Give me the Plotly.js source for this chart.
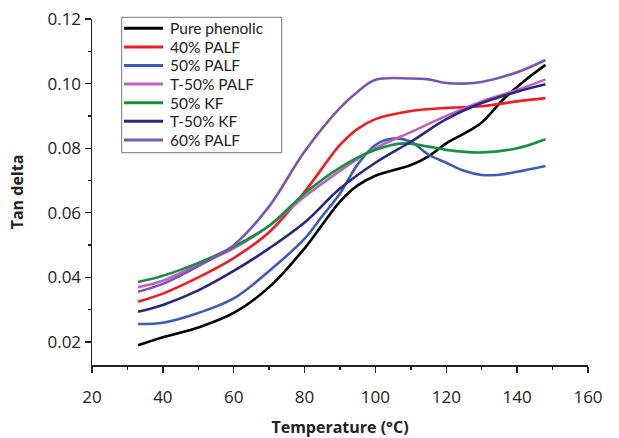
<!DOCTYPE html>
<html>
<head>
<meta charset="utf-8">
<script src="https://cdn.plot.ly/plotly-3.0.1.min.js"></script>
<style>html,body{margin:0;padding:0;background:#fff;}#chart{width:619px;height:438px;}</style>
</head>
<body>
<div id="chart"></div>
<script>
// Temperature (°C) and Tan delta per sample
const tempPure   = [33, 40, 50, 60, 70, 80, 90, 95, 100, 110, 115, 120, 125, 130, 136, 142, 148];
const tanPure    = [0.019, 0.0215, 0.0245, 0.029, 0.037, 0.049, 0.0635, 0.0685, 0.0715, 0.0748, 0.0775, 0.0815, 0.0845, 0.088, 0.095, 0.1008, 0.1058];

const temp40     = [33, 40, 50, 60, 70, 80, 90, 95, 100, 110, 120, 130, 140, 148];
const tan40      = [0.0325, 0.035, 0.040, 0.046, 0.054, 0.0665, 0.081, 0.086, 0.089, 0.0915, 0.0925, 0.093, 0.0945, 0.0955];

const temp50     = [33, 40, 50, 60, 70, 80, 85, 90, 95, 100, 105, 110, 115, 120, 125, 130, 135, 140, 148];
const tan50      = [0.0256, 0.026, 0.029, 0.0335, 0.042, 0.052, 0.059, 0.066, 0.075, 0.081, 0.083, 0.082, 0.078, 0.0755, 0.073, 0.0717, 0.0718, 0.0727, 0.0745];

const tempT50    = [33, 40, 50, 60, 70, 80, 90, 100, 110, 120, 130, 140, 148];
const tanT50     = [0.037, 0.039, 0.044, 0.049, 0.056, 0.065, 0.073, 0.080, 0.085, 0.090, 0.0945, 0.098, 0.1013];

const tempKF     = [33, 40, 50, 60, 70, 80, 90, 100, 108, 115, 120, 130, 140, 148];
const tanKF      = [0.0386, 0.0405, 0.0445, 0.0495, 0.056, 0.066, 0.074, 0.0795, 0.0815, 0.0805, 0.0795, 0.0787, 0.080, 0.0828];

const tempTKF    = [33, 40, 50, 60, 70, 80, 90, 100, 110, 120, 130, 140, 148];
const tanTKF     = [0.0294, 0.0315, 0.036, 0.042, 0.049, 0.057, 0.0675, 0.0755, 0.082, 0.089, 0.094, 0.0975, 0.0998];

const temp60     = [33, 40, 50, 60, 70, 80, 90, 95, 100, 110, 115, 120, 125, 130, 140, 148];
const tan60      = [0.0356, 0.038, 0.0435, 0.050, 0.062, 0.079, 0.0925, 0.0975, 0.1012, 0.1016, 0.1013, 0.1002, 0.1000, 0.1005, 0.1035, 0.1073];

const seriesNames = ["Pure phenolic", "40% PALF", "50% PALF", "T-50% PALF", "50% KF", "T-50% KF", "60% PALF"];
const seriesX = [tempPure, temp40, temp50, tempT50, tempKF, tempTKF, temp60];
const seriesY = [tanPure, tan40, tan50, tanT50, tanKF, tanTKF, tan60];
const colors = ["#000000", "#ee1c24", "#3b5cb8", "#c060c0", "#179040", "#26287e", "#7a56b2"];

const traces = seriesNames.map((n, i) => ({
  x: seriesX[i], y: seriesY[i], name: n, type: "scatter", mode: "lines",
  line: {color: colors[i], width: 2.6, shape: "spline", smoothing: 1}
}));

// plot area geometry (px) used to place the boxed legend
const W = 619, H = 438, ML = 92, MR = 31, MT = 19, MB = 73;
const PW = W - ML - MR, PH = H - MT - MB;
const px2x = p => (p - ML) / PW;
const px2y = p => (H - MB - p) / PH;

const fontFam = "Open Sans, Noto Sans, sans-serif";
const legendFont = "Lato, Open Sans, sans-serif";
const shapes = [{
  type: "rect", xref: "paper", yref: "paper",
  x0: px2x(121.7), x1: px2x(281.7), y0: px2y(152.7), y1: px2y(17.3),
  line: {color: "#777", width: 1}, fillcolor: "#fff", layer: "above"
}];
const annotations = [];
seriesNames.forEach((n, i) => {
  const yc = 28.3 + i * 18.6;
  shapes.push({type: "line", xref: "paper", yref: "paper",
    x0: px2x(124), x1: px2x(163), y0: px2y(yc), y1: px2y(yc),
    line: {color: colors[i], width: 3}, layer: "above"});
  annotations.push({xref: "paper", yref: "paper", x: px2x(169), y: px2y(yc),
    xanchor: "left", yanchor: "middle", text: n, showarrow: false, borderpad: 0,
    font: {family: legendFont, size: 15.5, color: "#222"}});
});

const layout = {
  width: W, height: H,
  margin: {l: ML, r: MR, t: MT, b: MB},
  paper_bgcolor: "#fff", plot_bgcolor: "#fff",
  font: {family: fontFam, size: 17, color: "#222"},
  showlegend: false,
  shapes: shapes, annotations: annotations,
  xaxis: {
    range: [20, 160], tick0: 20, dtick: 20, ticks: "outside", ticklen: 6, tickwidth: 1.3, tickcolor: "#222",
    showline: true, linecolor: "#222", linewidth: 1.5, showgrid: false, zeroline: false,
    minor: {ticks: "outside", ticklen: 3, dtick: 10, tick0: 20, tickcolor: "#222"},
    tickfont: {size: 17, color: "#222"}, ticklabelstandoff: 10,
    title: {text: "<b>Temperature (°C)</b>", font: {size: 16, color: "#222"}, standoff: 15}
  },
  yaxis: {
    range: [0.0129, 0.12], tick0: 0, dtick: 0.02, tickformat: ".2f", ticks: "outside", ticklen: 6, tickwidth: 1.3, tickcolor: "#222",
    showline: true, linecolor: "#222", linewidth: 1.5, showgrid: false, zeroline: false,
    minor: {ticks: "outside", ticklen: 3, dtick: 0.01, tick0: 0, tickcolor: "#222"},
    tickfont: {size: 17, color: "#222"},
    title: {text: "<b>Tan delta</b>", font: {size: 16, color: "#222"}, standoff: 20}
  }
};

Plotly.newPlot("chart", traces, layout, {displayModeBar: false, staticPlot: true});
</script>
</body>
</html>
